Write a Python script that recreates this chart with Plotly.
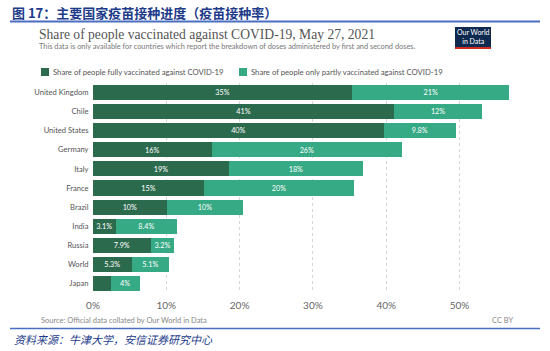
import plotly.graph_objects as go

countries = ["United Kingdom", "Chile", "United States", "Germany", "Italy", "France",
             "Brazil", "India", "Russia", "World", "Japan"]
fully = [35.4, 41.1, 39.7, 16.2, 18.6, 15.2, 10.1, 3.1, 7.9, 5.3, 2.4]
partly = [21.4, 12.0, 9.8, 26.0, 18.2, 20.4, 10.4, 8.4, 3.2, 5.1, 4.0]
x_ticks = [0, 10, 20, 30, 40, 50]
x_tick_labels = ["0%", "10%", "20%", "30%", "40%", "50%"]

series_names = ["Share of people fully vaccinated against COVID-19",
                "Share of people only partly vaccinated against COVID-19"]

W, H = 550, 351
L, R, T, B = 93, 35, 83, 58
DARK = "#2c6a4e"
LIGHT = "#36a985"

def px(x):
    return (x - L) / (W - L - R)

def py(y):
    return (H - B - y) / (H - T - B)

def lab(v):
    return "" if v < 3 else f"{v:.2g}%"

fig = go.Figure()
fig.add_trace(go.Bar(y=countries, x=fully, orientation="h", name=series_names[0],
                     marker=dict(color=DARK, line=dict(width=0)),
                     text=[lab(v) for v in fully], textposition="inside",
                     insidetextanchor="middle", textangle=0,
                     textfont=dict(color="white", size=8, family="Lato"),
                     showlegend=False))
fig.add_trace(go.Bar(y=countries, x=partly, orientation="h", name=series_names[1],
                     marker=dict(color=LIGHT, line=dict(width=0)),
                     text=[lab(v) for v in partly], textposition="inside",
                     insidetextanchor="middle", textangle=0,
                     textfont=dict(color="white", size=8, family="Lato"),
                     showlegend=False))

fig.update_layout(
    barmode="stack", bargap=0.21,
    width=W, height=H,
    margin=dict(l=L, r=R, t=T, b=B, pad=0),
    paper_bgcolor="white", plot_bgcolor="white",
    font=dict(family="Lato", color="#555"),
    uniformtext=dict(minsize=7, mode="show"),
)
fig.update_xaxes(range=[0, 57.57], tickvals=x_ticks, ticktext=x_tick_labels,
                 showgrid=True, gridcolor="#d6d6d6", griddash="dot", gridwidth=1,
                 zeroline=False, showline=False,
                 tickfont=dict(size=10, color="#666", family="Lato"),
                 ticks="outside", ticklen=3, tickcolor="rgba(0,0,0,0)")
fig.update_yaxes(autorange="reversed", showgrid=False, zeroline=False, showline=False,
                 tickfont=dict(size=7.6, color="#555", family="Lato"),
                 ticks="outside", ticklen=2, tickcolor="rgba(0,0,0,0)")

ann = []
shapes = []
# Header
ann.append(dict(text="<b>图 17：主要国家疫苗接种进度（疫苗接种率）</b>", x=px(10), y=py(12),
                xref="paper", yref="paper", xanchor="left", yanchor="middle", showarrow=False,
                font=dict(family="Noto Sans CJK SC", size=13, color="#1d3b8a")))
shapes.append(dict(type="line", xref="paper", yref="paper", x0=px(10), x1=px(540),
                   y0=py(21.5), y1=py(21.5), line=dict(color="#4a6fc0", width=2)))
# Chart title & subtitle
ann.append(dict(text="Share of people vaccinated against COVID-19, May 27, 2021", x=px(37), y=py(35),
                xref="paper", yref="paper", xanchor="left", yanchor="middle", showarrow=False,
                font=dict(family="Liberation Serif", size=13.6, color="#555")))
ann.append(dict(text="This data is only available for countries which report the breakdown of doses administered by first and second doses.",
                x=px(37), y=py(47), xref="paper", yref="paper", xanchor="left", yanchor="middle",
                showarrow=False, font=dict(family="Lato", size=7.4, color="#777")))
# OWID logo
shapes.append(dict(type="rect", xref="paper", yref="paper", x0=px(455), x1=px(491),
                   y0=py(27), y1=py(47), fillcolor="#0f2a50", line=dict(width=0)))
shapes.append(dict(type="rect", xref="paper", yref="paper", x0=px(455), x1=px(491),
                   y0=py(47), y1=py(49), fillcolor="#d42b21", line=dict(width=0)))
ann.append(dict(text="Our World<br>in Data", x=px(473), y=py(37), xref="paper", yref="paper",
                xanchor="center", yanchor="middle", showarrow=False,
                font=dict(family="Lato", size=7, color="white")))
# Legend
for sx, name, col in [(41, series_names[0], DARK), (239, series_names[1], LIGHT)]:
    shapes.append(dict(type="rect", xref="paper", yref="paper", x0=px(sx), x1=px(sx + 8),
                       y0=py(68), y1=py(76), fillcolor=col, line=dict(width=0)))
    ann.append(dict(text=name, x=px(sx + 10), y=py(72), xref="paper", yref="paper",
                    xanchor="left", yanchor="middle", showarrow=False,
                    font=dict(family="Lato", size=7.7, color="#555")))
# Source and license
ann.append(dict(text="Source: Official data collated by Our World in Data", x=px(39), y=py(320),
                xref="paper", yref="paper", xanchor="left", yanchor="middle", showarrow=False,
                font=dict(family="Lato", size=7.5, color="#888")))
ann.append(dict(text="CC BY", x=px(516), y=py(320), xref="paper", yref="paper",
                xanchor="right", yanchor="middle", showarrow=False,
                font=dict(family="Lato", size=7.5, color="#888")))
shapes.append(dict(type="line", xref="paper", yref="paper", x0=px(10), x1=px(540),
                   y0=py(328.5), y1=py(328.5), line=dict(color="#4a6fc0", width=1.5)))
ann.append(dict(text="<i>资料来源：牛津大学，安信证券研究中心</i>", x=px(12), y=py(339),
                xref="paper", yref="paper", xanchor="left", yanchor="middle", showarrow=False,
                font=dict(family="Noto Sans CJK SC", size=11, color="#1d3b8a")))

fig.update_layout(annotations=ann, shapes=shapes)
fig.write_html("out.html")
